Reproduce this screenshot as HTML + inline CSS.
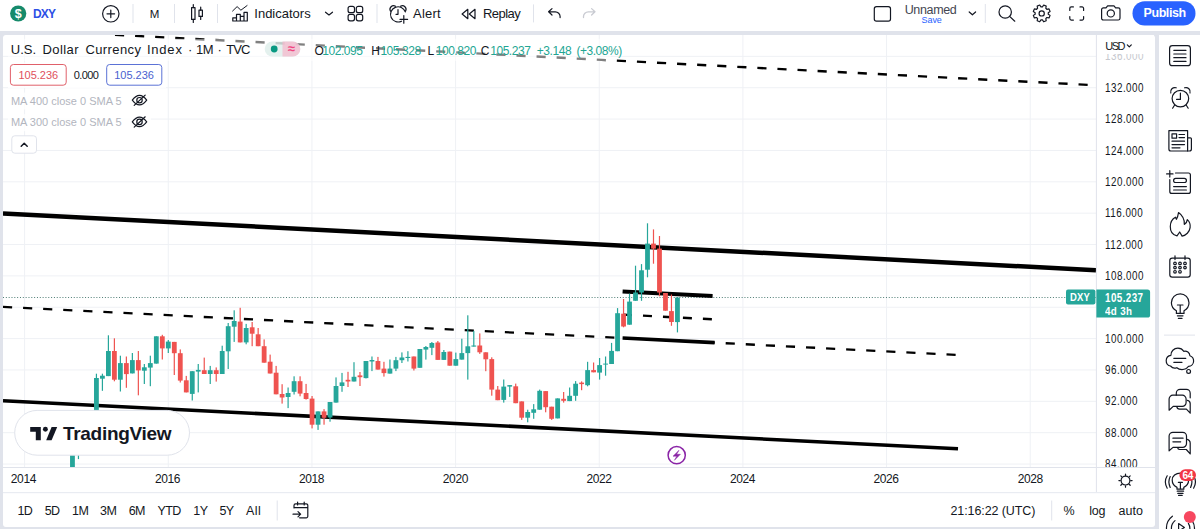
<!DOCTYPE html>
<html><head><meta charset="utf-8"><style>
*{margin:0;padding:0;box-sizing:border-box;}
html,body{width:1200px;height:529px;overflow:hidden;background:#e0e3eb;font-family:"Liberation Sans",sans-serif;color:#131722;}
.a{position:absolute;white-space:nowrap;}
</style></head><body>
<div class="a" style="left:0;top:0;width:1200px;height:31px;background:#fff"></div>
<div class="a" style="left:3px;top:35px;width:1152px;height:492px;background:#fff;border-radius:3px"></div>
<div class="a" style="left:1159px;top:35px;width:41px;height:494px;background:#fff"></div>
<svg class="a" style="left:0;top:0" width="1200" height="529" viewBox="0 0 1200 529">
<defs><clipPath id="pane"><rect x="3" y="35" width="1093" height="432"/></clipPath></defs>
<g clip-path="url(#pane)">
<rect x="3" y="463.54" width="1093" height="1" fill="#eff1f5"/>
<rect x="3" y="432.18" width="1093" height="1" fill="#eff1f5"/>
<rect x="3" y="400.82" width="1093" height="1" fill="#eff1f5"/>
<rect x="3" y="369.46" width="1093" height="1" fill="#eff1f5"/>
<rect x="3" y="338.1" width="1093" height="1" fill="#eff1f5"/>
<rect x="3" y="306.74" width="1093" height="1" fill="#eff1f5"/>
<rect x="3" y="275.38" width="1093" height="1" fill="#eff1f5"/>
<rect x="3" y="244.02" width="1093" height="1" fill="#eff1f5"/>
<rect x="3" y="212.66" width="1093" height="1" fill="#eff1f5"/>
<rect x="3" y="181.3" width="1093" height="1" fill="#eff1f5"/>
<rect x="3" y="149.94" width="1093" height="1" fill="#eff1f5"/>
<rect x="3" y="118.58" width="1093" height="1" fill="#eff1f5"/>
<rect x="3" y="87.22" width="1093" height="1" fill="#eff1f5"/>
<rect x="3" y="55.86" width="1093" height="1" fill="#eff1f5"/>
<rect x="24.1" y="35" width="1" height="432" fill="#eff1f5"/>
<rect x="167.76" y="35" width="1" height="432" fill="#eff1f5"/>
<rect x="311.42" y="35" width="1" height="432" fill="#eff1f5"/>
<rect x="455.08" y="35" width="1" height="432" fill="#eff1f5"/>
<rect x="598.74" y="35" width="1" height="432" fill="#eff1f5"/>
<rect x="742.4" y="35" width="1" height="432" fill="#eff1f5"/>
<rect x="886.06" y="35" width="1" height="432" fill="#eff1f5"/>
<rect x="1029.72" y="35" width="1" height="432" fill="#eff1f5"/>
<line x1="3" y1="297.5" x2="1096" y2="297.5" stroke="#4f7d75" stroke-width="1" stroke-dasharray="1 1.83"/>
<line x1="3" y1="213.4" x2="1096" y2="270.2" stroke="#000" stroke-width="4.5"/>
<line x1="115" y1="34.84" x2="1088" y2="84.86" stroke="#000" stroke-width="2.4" stroke-dasharray="9.15 10.95"/>
<line x1="3" y1="306.87" x2="956" y2="354.86" stroke="#000" stroke-width="2.3" stroke-dasharray="9.15 10.95"/>
<line x1="3" y1="400.7" x2="958" y2="448.8" stroke="#000" stroke-width="3.6"/>
<line x1="622.6" y1="291.4" x2="712.6" y2="296" stroke="#000" stroke-width="4"/>
<line x1="622.6" y1="338" x2="714.6" y2="342.6" stroke="#000" stroke-width="3.6"/>
<line x1="623" y1="314.6" x2="712" y2="319.3" stroke="#000" stroke-width="2.4" stroke-dasharray="9 11"/>
<rect x="71.86" y="446.4" width="1.2" height="25.1" fill="#26a69a"/>
<rect x="70.06" y="447.6" width="4.8" height="23.9" fill="#26a69a"/>
<rect x="77.85" y="438.1" width="1.2" height="21" fill="#26a69a"/>
<rect x="76.05" y="440.3" width="4.8" height="7.3" fill="#26a69a"/>
<rect x="83.84" y="428" width="1.2" height="13" fill="#26a69a"/>
<rect x="82.04" y="428.7" width="4.8" height="11.6" fill="#26a69a"/>
<rect x="89.83" y="412.6" width="1.2" height="22" fill="#26a69a"/>
<rect x="88.03" y="413.8" width="4.8" height="14.9" fill="#26a69a"/>
<rect x="95.82" y="373.7" width="1.2" height="41.3" fill="#26a69a"/>
<rect x="94.02" y="378" width="4.8" height="37" fill="#26a69a"/>
<rect x="101.81" y="373.7" width="1.2" height="17.1" fill="#26a69a"/>
<rect x="100.01" y="375.7" width="4.8" height="3" fill="#26a69a"/>
<rect x="107.8" y="335.3" width="1.2" height="40.8" fill="#26a69a"/>
<rect x="106" y="351" width="4.8" height="25.1" fill="#26a69a"/>
<rect x="113.79" y="338.3" width="1.2" height="43" fill="#ef5350"/>
<rect x="111.99" y="351" width="4.8" height="28.7" fill="#ef5350"/>
<rect x="119.78" y="355.7" width="1.2" height="35.8" fill="#26a69a"/>
<rect x="117.98" y="363.1" width="4.8" height="16.6" fill="#26a69a"/>
<rect x="125.77" y="356.5" width="1.2" height="31.3" fill="#ef5350"/>
<rect x="123.97" y="363.1" width="4.8" height="11" fill="#ef5350"/>
<rect x="131.76" y="353" width="1.2" height="20.4" fill="#26a69a"/>
<rect x="129.96" y="360.1" width="4.8" height="13.3" fill="#26a69a"/>
<rect x="137.75" y="351" width="1.2" height="44.3" fill="#ef5350"/>
<rect x="135.95" y="360.1" width="4.8" height="10.3" fill="#ef5350"/>
<rect x="143.74" y="364" width="1.2" height="20" fill="#26a69a"/>
<rect x="141.94" y="367.3" width="4.8" height="3.4" fill="#26a69a"/>
<rect x="149.73" y="355.7" width="1.2" height="30.5" fill="#26a69a"/>
<rect x="147.93" y="363.1" width="4.8" height="4.5" fill="#26a69a"/>
<rect x="155.72" y="336.3" width="1.2" height="27.3" fill="#26a69a"/>
<rect x="153.92" y="336.3" width="4.8" height="27.3" fill="#26a69a"/>
<rect x="161.71" y="334.8" width="1.2" height="24.7" fill="#ef5350"/>
<rect x="159.91" y="336.3" width="4.8" height="12.1" fill="#ef5350"/>
<rect x="167.7" y="340" width="1.2" height="13" fill="#26a69a"/>
<rect x="165.9" y="341.6" width="4.8" height="6.8" fill="#26a69a"/>
<rect x="173.69" y="341.9" width="1.2" height="33.1" fill="#ef5350"/>
<rect x="171.89" y="341.9" width="4.8" height="11.3" fill="#ef5350"/>
<rect x="179.68" y="349.4" width="1.2" height="33.1" fill="#ef5350"/>
<rect x="177.88" y="353.2" width="4.8" height="27.4" fill="#ef5350"/>
<rect x="185.67" y="375.9" width="1.2" height="16.5" fill="#ef5350"/>
<rect x="183.87" y="380.3" width="4.8" height="12.1" fill="#ef5350"/>
<rect x="191.66" y="371.2" width="1.2" height="29.3" fill="#26a69a"/>
<rect x="189.86" y="371.2" width="4.8" height="22.7" fill="#26a69a"/>
<rect x="197.65" y="364" width="1.2" height="28.4" fill="#26a69a"/>
<rect x="195.85" y="369.9" width="4.8" height="1.7" fill="#26a69a"/>
<rect x="203.64" y="357.6" width="1.2" height="16.4" fill="#ef5350"/>
<rect x="201.84" y="370.2" width="4.8" height="3.8" fill="#ef5350"/>
<rect x="209.63" y="365.9" width="1.2" height="18.1" fill="#26a69a"/>
<rect x="207.83" y="370.2" width="4.8" height="3.8" fill="#26a69a"/>
<rect x="215.62" y="367.4" width="1.2" height="14.2" fill="#ef5350"/>
<rect x="213.82" y="370.2" width="4.8" height="3.8" fill="#ef5350"/>
<rect x="221.61" y="345.7" width="1.2" height="28.3" fill="#26a69a"/>
<rect x="219.81" y="351" width="4.8" height="23" fill="#26a69a"/>
<rect x="227.6" y="323" width="1.2" height="46" fill="#26a69a"/>
<rect x="225.8" y="326.2" width="4.8" height="25.1" fill="#26a69a"/>
<rect x="233.59" y="310.3" width="1.2" height="31.6" fill="#26a69a"/>
<rect x="231.79" y="321" width="4.8" height="5.7" fill="#26a69a"/>
<rect x="239.58" y="307.8" width="1.2" height="34.6" fill="#ef5350"/>
<rect x="237.78" y="321.6" width="4.8" height="20.8" fill="#ef5350"/>
<rect x="245.57" y="323.9" width="1.2" height="20.4" fill="#26a69a"/>
<rect x="243.77" y="328" width="4.8" height="14.4" fill="#26a69a"/>
<rect x="251.56" y="322" width="1.2" height="24.2" fill="#ef5350"/>
<rect x="249.76" y="327.3" width="4.8" height="6.4" fill="#ef5350"/>
<rect x="257.55" y="328" width="1.2" height="18.2" fill="#ef5350"/>
<rect x="255.75" y="334.3" width="4.8" height="11.9" fill="#ef5350"/>
<rect x="263.54" y="339.4" width="1.2" height="23.3" fill="#ef5350"/>
<rect x="261.74" y="346.2" width="4.8" height="16.5" fill="#ef5350"/>
<rect x="269.53" y="354.6" width="1.2" height="18.9" fill="#ef5350"/>
<rect x="267.73" y="361.7" width="4.8" height="11.8" fill="#ef5350"/>
<rect x="275.52" y="365.9" width="1.2" height="28.4" fill="#ef5350"/>
<rect x="273.72" y="372.7" width="4.8" height="21.6" fill="#ef5350"/>
<rect x="281.51" y="384.2" width="1.2" height="19.4" fill="#ef5350"/>
<rect x="279.71" y="394" width="4.8" height="3.5" fill="#ef5350"/>
<rect x="287.5" y="387.5" width="1.2" height="20.6" fill="#26a69a"/>
<rect x="285.7" y="393" width="4.8" height="4" fill="#26a69a"/>
<rect x="293.49" y="376.3" width="1.2" height="18.2" fill="#26a69a"/>
<rect x="291.69" y="381.2" width="4.8" height="10.6" fill="#26a69a"/>
<rect x="299.48" y="376.3" width="1.2" height="20" fill="#ef5350"/>
<rect x="297.68" y="381.2" width="4.8" height="12.4" fill="#ef5350"/>
<rect x="305.47" y="383.9" width="1.2" height="15.7" fill="#ef5350"/>
<rect x="303.67" y="393" width="4.8" height="6" fill="#ef5350"/>
<rect x="311.46" y="396" width="1.2" height="32.4" fill="#ef5350"/>
<rect x="309.66" y="398.6" width="4.8" height="26.1" fill="#ef5350"/>
<rect x="317.45" y="411.4" width="1.2" height="18.5" fill="#26a69a"/>
<rect x="315.65" y="411.4" width="4.8" height="13.3" fill="#26a69a"/>
<rect x="323.44" y="409.1" width="1.2" height="15.6" fill="#ef5350"/>
<rect x="321.64" y="411.4" width="4.8" height="6.4" fill="#ef5350"/>
<rect x="329.43" y="402" width="1.2" height="19.7" fill="#26a69a"/>
<rect x="327.63" y="402" width="4.8" height="15.5" fill="#26a69a"/>
<rect x="335.42" y="377.4" width="1.2" height="25.2" fill="#26a69a"/>
<rect x="333.62" y="386" width="4.8" height="16.6" fill="#26a69a"/>
<rect x="341.41" y="372.9" width="1.2" height="18.9" fill="#26a69a"/>
<rect x="339.61" y="382.4" width="4.8" height="3.6" fill="#26a69a"/>
<rect x="347.4" y="371.8" width="1.2" height="15.2" fill="#ef5350"/>
<rect x="345.6" y="379.8" width="4.8" height="1.7" fill="#ef5350"/>
<rect x="353.39" y="362.2" width="1.2" height="19.3" fill="#26a69a"/>
<rect x="351.59" y="376.8" width="4.8" height="4.7" fill="#26a69a"/>
<rect x="359.38" y="372" width="1.2" height="14" fill="#ef5350"/>
<rect x="357.58" y="375.4" width="4.8" height="1.8" fill="#ef5350"/>
<rect x="365.37" y="361" width="1.2" height="17.4" fill="#26a69a"/>
<rect x="363.57" y="361" width="4.8" height="17.1" fill="#26a69a"/>
<rect x="371.36" y="356.5" width="1.2" height="14.6" fill="#26a69a"/>
<rect x="369.56" y="360" width="4.8" height="1.5" fill="#26a69a"/>
<rect x="377.35" y="356.9" width="1.2" height="12.7" fill="#ef5350"/>
<rect x="375.55" y="361" width="4.8" height="8.6" fill="#ef5350"/>
<rect x="383.34" y="361.8" width="1.2" height="14.8" fill="#ef5350"/>
<rect x="381.54" y="368.6" width="4.8" height="4.5" fill="#ef5350"/>
<rect x="389.33" y="359.5" width="1.2" height="14.1" fill="#26a69a"/>
<rect x="387.53" y="368.6" width="4.8" height="5" fill="#26a69a"/>
<rect x="395.32" y="356.9" width="1.2" height="14.2" fill="#26a69a"/>
<rect x="393.52" y="360.2" width="4.8" height="8.4" fill="#26a69a"/>
<rect x="401.31" y="352.4" width="1.2" height="10.6" fill="#26a69a"/>
<rect x="399.51" y="357.5" width="4.8" height="2.7" fill="#26a69a"/>
<rect x="407.3" y="351.2" width="1.2" height="10.3" fill="#26a69a"/>
<rect x="405.5" y="356.9" width="4.8" height="1.1" fill="#26a69a"/>
<rect x="413.29" y="356.5" width="1.2" height="14" fill="#ef5350"/>
<rect x="411.49" y="356.5" width="4.8" height="12.1" fill="#ef5350"/>
<rect x="419.28" y="349" width="1.2" height="18.8" fill="#26a69a"/>
<rect x="417.48" y="349" width="4.8" height="18.8" fill="#26a69a"/>
<rect x="425.27" y="346" width="1.2" height="13.6" fill="#26a69a"/>
<rect x="423.47" y="347" width="4.8" height="2.6" fill="#26a69a"/>
<rect x="431.26" y="342" width="1.2" height="13.1" fill="#26a69a"/>
<rect x="429.46" y="343" width="4.8" height="4.8" fill="#26a69a"/>
<rect x="437.25" y="341" width="1.2" height="18.9" fill="#ef5350"/>
<rect x="435.45" y="342.5" width="4.8" height="17.4" fill="#ef5350"/>
<rect x="443.24" y="350" width="1.2" height="9.9" fill="#26a69a"/>
<rect x="441.44" y="352" width="4.8" height="7.9" fill="#26a69a"/>
<rect x="449.23" y="351.6" width="1.2" height="14.1" fill="#ef5350"/>
<rect x="447.43" y="351.6" width="4.8" height="14.1" fill="#ef5350"/>
<rect x="455.22" y="352.6" width="1.2" height="13.1" fill="#26a69a"/>
<rect x="453.42" y="359.1" width="4.8" height="6.6" fill="#26a69a"/>
<rect x="461.21" y="338.7" width="1.2" height="20.9" fill="#26a69a"/>
<rect x="459.41" y="353.1" width="4.8" height="6.5" fill="#26a69a"/>
<rect x="467.2" y="315.3" width="1.2" height="64.3" fill="#26a69a"/>
<rect x="465.4" y="346.3" width="4.8" height="6.8" fill="#26a69a"/>
<rect x="473.19" y="330.9" width="1.2" height="15.7" fill="#26a69a"/>
<rect x="471.39" y="345.5" width="4.8" height="1.1" fill="#26a69a"/>
<rect x="479.18" y="333.4" width="1.2" height="20.5" fill="#ef5350"/>
<rect x="477.38" y="345.5" width="4.8" height="6.8" fill="#ef5350"/>
<rect x="485.17" y="352.3" width="1.2" height="18.9" fill="#ef5350"/>
<rect x="483.37" y="352.3" width="4.8" height="7" fill="#ef5350"/>
<rect x="491.16" y="357.3" width="1.2" height="38.4" fill="#ef5350"/>
<rect x="489.36" y="359.1" width="4.8" height="30.5" fill="#ef5350"/>
<rect x="497.15" y="386" width="1.2" height="14.2" fill="#ef5350"/>
<rect x="495.35" y="389.6" width="4.8" height="10.6" fill="#ef5350"/>
<rect x="503.14" y="379.5" width="1.2" height="23.1" fill="#26a69a"/>
<rect x="501.34" y="386.6" width="4.8" height="13.3" fill="#26a69a"/>
<rect x="509.13" y="385.1" width="1.2" height="11.8" fill="#26a69a"/>
<rect x="507.33" y="385.1" width="4.8" height="1.5" fill="#26a69a"/>
<rect x="515.12" y="383.6" width="1.2" height="19.6" fill="#ef5350"/>
<rect x="513.32" y="386.3" width="4.8" height="16.9" fill="#ef5350"/>
<rect x="521.11" y="401.4" width="1.2" height="18.5" fill="#ef5350"/>
<rect x="519.31" y="401.4" width="4.8" height="16.3" fill="#ef5350"/>
<rect x="527.1" y="409.7" width="1.2" height="12.6" fill="#26a69a"/>
<rect x="525.3" y="412" width="4.8" height="5.7" fill="#26a69a"/>
<rect x="533.09" y="404.1" width="1.2" height="14.7" fill="#26a69a"/>
<rect x="531.29" y="409.3" width="4.8" height="3.5" fill="#26a69a"/>
<rect x="539.08" y="389.6" width="1.2" height="20.1" fill="#26a69a"/>
<rect x="537.28" y="390.8" width="4.8" height="18.9" fill="#26a69a"/>
<rect x="545.07" y="391.1" width="1.2" height="21.2" fill="#ef5350"/>
<rect x="543.27" y="391.1" width="4.8" height="16.1" fill="#ef5350"/>
<rect x="551.06" y="406.7" width="1.2" height="13.2" fill="#ef5350"/>
<rect x="549.26" y="406.7" width="4.8" height="12.1" fill="#ef5350"/>
<rect x="557.05" y="398.4" width="1.2" height="20" fill="#26a69a"/>
<rect x="555.25" y="398.4" width="4.8" height="20" fill="#26a69a"/>
<rect x="563.04" y="392" width="1.2" height="10.6" fill="#ef5350"/>
<rect x="561.24" y="398.8" width="4.8" height="2" fill="#ef5350"/>
<rect x="569.03" y="387.5" width="1.2" height="13.6" fill="#26a69a"/>
<rect x="567.23" y="395.8" width="4.8" height="5.3" fill="#26a69a"/>
<rect x="575.02" y="381.1" width="1.2" height="19.7" fill="#26a69a"/>
<rect x="573.22" y="383.7" width="4.8" height="12.1" fill="#26a69a"/>
<rect x="581.01" y="381.4" width="1.2" height="8.8" fill="#ef5350"/>
<rect x="579.21" y="382.6" width="4.8" height="1.5" fill="#ef5350"/>
<rect x="587" y="361.8" width="1.2" height="24.5" fill="#26a69a"/>
<rect x="585.2" y="370.1" width="4.8" height="15.1" fill="#26a69a"/>
<rect x="592.99" y="362.5" width="1.2" height="9.8" fill="#ef5350"/>
<rect x="591.19" y="370.1" width="4.8" height="2.2" fill="#ef5350"/>
<rect x="598.98" y="358" width="1.2" height="21.6" fill="#26a69a"/>
<rect x="597.18" y="365.1" width="4.8" height="7.5" fill="#26a69a"/>
<rect x="604.97" y="356.5" width="1.2" height="19.2" fill="#26a69a"/>
<rect x="603.17" y="363.6" width="4.8" height="1" fill="#26a69a"/>
<rect x="610.96" y="342.9" width="1.2" height="21.1" fill="#26a69a"/>
<rect x="609.16" y="350.9" width="4.8" height="13.1" fill="#26a69a"/>
<rect x="616.95" y="308.1" width="1.2" height="43.1" fill="#26a69a"/>
<rect x="615.15" y="313.2" width="4.8" height="38" fill="#26a69a"/>
<rect x="622.94" y="299" width="1.2" height="28.3" fill="#ef5350"/>
<rect x="621.14" y="313.7" width="4.8" height="12.8" fill="#ef5350"/>
<rect x="628.93" y="293.6" width="1.2" height="31.1" fill="#26a69a"/>
<rect x="627.13" y="301.6" width="4.8" height="23.1" fill="#26a69a"/>
<rect x="634.92" y="265.7" width="1.2" height="35.1" fill="#26a69a"/>
<rect x="633.12" y="292.5" width="4.8" height="8.3" fill="#26a69a"/>
<rect x="640.91" y="264.1" width="1.2" height="36.7" fill="#26a69a"/>
<rect x="639.11" y="270.3" width="4.8" height="22.2" fill="#26a69a"/>
<rect x="646.9" y="223.3" width="1.2" height="54" fill="#26a69a"/>
<rect x="645.1" y="243.6" width="4.8" height="26.1" fill="#26a69a"/>
<rect x="652.89" y="229.4" width="1.2" height="34.3" fill="#ef5350"/>
<rect x="651.09" y="243.6" width="4.8" height="5" fill="#ef5350"/>
<rect x="658.88" y="236" width="1.2" height="60.3" fill="#ef5350"/>
<rect x="657.08" y="248.6" width="4.8" height="43.9" fill="#ef5350"/>
<rect x="664.87" y="293" width="1.2" height="17.7" fill="#ef5350"/>
<rect x="663.07" y="293" width="4.8" height="17.7" fill="#ef5350"/>
<rect x="670.86" y="294.5" width="1.2" height="31.3" fill="#ef5350"/>
<rect x="669.06" y="311.1" width="4.8" height="10.9" fill="#ef5350"/>
<rect x="676.85" y="297" width="1.2" height="35.4" fill="#26a69a"/>
<rect x="675.05" y="297.6" width="4.8" height="24.5" fill="#26a69a"/>
</g>
<rect x="1095.9" y="35" width="1" height="457.4" fill="#e0e3eb"/>
<rect x="3" y="467" width="1152" height="1" fill="#e0e3eb"/>
<rect x="3" y="492" width="1152" height="1.2" fill="#e9ecf2"/>
<rect x="1066" y="289.5" width="29.4" height="15" rx="2" fill="#26a69a"/>
<path d="M1096.4 289.5H1147.5A2.6 2.6 0 0 1 1150.1 292.1V315A2.6 2.6 0 0 1 1147.5 317.6H1096.4Z" fill="#26a69a"/>
<circle cx="1125.5" cy="480.6" r="4.4" fill="none" stroke="#131722" stroke-width="1.2" stroke-linecap="round" stroke-linejoin="round"/>
<path d="M1130.70 480.60L1132.10 480.60M1129.18 484.28L1130.17 485.27M1125.50 485.80L1125.50 487.20M1121.82 484.28L1120.83 485.27M1120.30 480.60L1118.90 480.60M1121.82 476.92L1120.83 475.93M1125.50 475.40L1125.50 474.00M1129.18 476.92L1130.17 475.93" fill="none" stroke="#131722" stroke-width="1.2" stroke-linecap="round" stroke-linejoin="round" stroke-width="1.3"/>
<rect x="276.7" y="500.5" width="1" height="20" fill="#e0e3eb"/>
<rect x="1051.2" y="500.5" width="1" height="20" fill="#e0e3eb"/>
<path d="M294 508V505.4A1.6 1.6 0 0 1 295.6 503.8H306.2A1.6 1.6 0 0 1 307.8 505.4V516.2A1.6 1.6 0 0 1 306.2 517.8H299.6M294 507.6H307.8M297.6 502V505M304.2 502V505M293 514.2H300.4M298 511.6L300.6 514.2L298 516.8" fill="none" stroke="#131722" stroke-width="1.2" stroke-linecap="round" stroke-linejoin="round"/>
<circle cx="676.7" cy="455.2" r="8.6" fill="#fff" stroke="#8a24a6" stroke-width="1.5"/>
<path d="M679 450.3L673 456.2H676.8L674.4 460.3L680.4 454.3H676.6Z" fill="#8a24a6" stroke="#8a24a6" stroke-width="0.5" stroke-linejoin="round"/>
<rect x="14.7" y="410.4" width="174.8" height="44.8" rx="22.4" fill="#fff" stroke="#e0e3eb" stroke-width="1"/>
<path d="M30.2 426.9H40.8V440.2H35.8V431.8H30.2Z" fill="#131722"/>
<circle cx="45.4" cy="429.3" r="2.45" fill="#131722"/>
<path d="M51.6 426.9H57.2L51.6 440.2H46.2Z" fill="#131722"/>
<circle cx="18.2" cy="13.5" r="8.1" fill="#168a6b"/>
<text x="18.3" y="18" font-family="Liberation Sans" font-weight="700" font-size="12.5" fill="#fff" text-anchor="middle">$</text>
<circle cx="110.8" cy="13.8" r="8.2" fill="none" stroke="#131722" stroke-width="1.2" stroke-linecap="round" stroke-linejoin="round"/>
<path d="M107 13.8H114.6M110.8 10V17.6" fill="none" stroke="#131722" stroke-width="1.2" stroke-linecap="round" stroke-linejoin="round" stroke-width="1.5"/>
<rect x="132.5" y="4" width="1" height="19" fill="#e0e3eb"/>
<rect x="174.0" y="4" width="1" height="19" fill="#e0e3eb"/>
<rect x="217.0" y="4" width="1" height="19" fill="#e0e3eb"/>
<rect x="376.5" y="4" width="1" height="19" fill="#e0e3eb"/>
<rect x="533.0" y="4.4" width="1" height="18.0" fill="#e0e3eb"/>
<rect x="984.8" y="4" width="1" height="19" fill="#e0e3eb"/>
<rect x="191.6" y="7.6" width="3.4" height="11.8" fill="none" stroke="#131722" stroke-width="1.2" stroke-linecap="round" stroke-linejoin="round"/>
<path d="M193.3 4.5V7.6M193.3 19.4V22.5" fill="none" stroke="#131722" stroke-width="1.2" stroke-linecap="round" stroke-linejoin="round"/>
<rect x="199" y="10.2" width="3.4" height="6.2" fill="none" stroke="#131722" stroke-width="1.2" stroke-linecap="round" stroke-linejoin="round"/>
<path d="M200.7 7V10.2M200.7 16.4V19.5" fill="none" stroke="#131722" stroke-width="1.2" stroke-linecap="round" stroke-linejoin="round"/>
<path d="M232.3 11.3L237.1 6.6L240.9 10.2L247.4 5.3" fill="none" stroke="#131722" stroke-width="1"/>
<path d="M232.8 21V17.8H236.5V14.4H240.3V16.3H244V12.4H247.3V21ZM236.5 17.8V21M240.3 16.3V21M244 16.3V21" fill="none" stroke="#131722" stroke-width="1.2" stroke-linecap="round" stroke-linejoin="round" stroke-width="1.3"/>
<path d="M325.5 12.2L329 15L332.5 12.2" fill="none" stroke="#131722" stroke-width="1.2" stroke-linecap="round" stroke-linejoin="round"/>
<rect x="348.1" y="6.3" width="6.4" height="6.4" rx="2" fill="none" stroke="#131722" stroke-width="1.2" stroke-linecap="round" stroke-linejoin="round" stroke-width="1.3"/>
<rect x="356.3" y="6.3" width="6.4" height="6.4" rx="2" fill="none" stroke="#131722" stroke-width="1.2" stroke-linecap="round" stroke-linejoin="round" stroke-width="1.3"/>
<rect x="348.1" y="14.4" width="6.4" height="6.4" rx="2" fill="none" stroke="#131722" stroke-width="1.2" stroke-linecap="round" stroke-linejoin="round" stroke-width="1.3"/>
<rect x="356.3" y="14.4" width="6.4" height="6.4" rx="2" fill="none" stroke="#131722" stroke-width="1.2" stroke-linecap="round" stroke-linejoin="round" stroke-width="1.3"/>
<path d="M401.5 21.2A7.6 7.6 0 1 1 405.3 11.9" fill="none" stroke="#131722" stroke-width="1.2" stroke-linecap="round" stroke-linejoin="round"/>
<path d="M390.5 11.2A3.6 3.6 0 0 1 395.5 6.3M400.5 6.3A3.6 3.6 0 0 1 405.5 11.2" fill="none" stroke="#131722" stroke-width="1.2" stroke-linecap="round" stroke-linejoin="round"/>
<path d="M398 9.5V14.3H396" fill="none" stroke="#131722" stroke-width="1.2" stroke-linecap="round" stroke-linejoin="round" stroke-width="1.4"/>
<path d="M400 19.4H407.6M403.8 15.6V23.2" fill="none" stroke="#131722" stroke-width="1.2" stroke-linecap="round" stroke-linejoin="round"/>
<path d="M467.8 9.3L462.1 14L467.8 18.7ZM475 9.3L469.3 14L475 18.7Z" fill="none" stroke="#131722" stroke-width="1.2" stroke-linecap="round" stroke-linejoin="round" stroke-width="1.1"/>
<path d="M552 8.6L548.6 11.8L552 15M548.6 11.8H555.3A4.8 4.8 0 0 1 560.1 16.6V17.6" fill="none" stroke="#131722" stroke-width="1.2" stroke-linecap="round" stroke-linejoin="round" stroke-width="1.3"/>
<path d="M591.6 8.6L595 11.8L591.6 15M595 11.8H588.3A4.8 4.8 0 0 0 583.5 16.6V17.6" fill="none" stroke="#c9cbd2" stroke-width="1.3" stroke-linecap="round" stroke-linejoin="round"/>
<rect x="874.3" y="6.6" width="16.2" height="14.6" rx="2.2" fill="none" stroke="#131722" stroke-width="1.2" stroke-linecap="round" stroke-linejoin="round" stroke-width="1.3"/>
<path d="M969.2 12L972.4 14.8L975.6 12" fill="none" stroke="#131722" stroke-width="1.2" stroke-linecap="round" stroke-linejoin="round"/>
<circle cx="1005.2" cy="12" r="6.2" fill="none" stroke="#131722" stroke-width="1.2" stroke-linecap="round" stroke-linejoin="round" stroke-width="1.3"/>
<path d="M1009.6 16.4L1014.8 21.2" fill="none" stroke="#131722" stroke-width="1.2" stroke-linecap="round" stroke-linejoin="round" stroke-width="1.3"/>
<path d="M1048.26 14.14 L1050.07 15.38 L1049.02 17.91 L1046.86 17.51 L1045.81 18.56 L1046.21 20.72 L1043.68 21.77 L1042.44 19.96 L1040.96 19.96 L1039.72 21.77 L1037.19 20.72 L1037.59 18.56 L1036.54 17.51 L1034.38 17.91 L1033.33 15.38 L1035.14 14.14 L1035.14 12.66 L1033.33 11.42 L1034.38 8.89 L1036.54 9.29 L1037.59 8.24 L1037.19 6.08 L1039.72 5.03 L1040.96 6.84 L1042.44 6.84 L1043.68 5.03 L1046.21 6.08 L1045.81 8.24 L1046.86 9.29 L1049.02 8.89 L1050.07 11.42 L1048.26 12.66Z" fill="none" stroke="#131722" stroke-width="1.2" stroke-linecap="round" stroke-linejoin="round" stroke-width="1.2"/>
<circle cx="1041.7" cy="13.4" r="2.6" fill="none" stroke="#131722" stroke-width="1.2" stroke-linecap="round" stroke-linejoin="round" stroke-width="1.2"/>
<path d="M1069.8 10.5V8.4A1.5 1.5 0 0 1 1071.3 6.9H1073.4M1080 6.9H1082.1A1.5 1.5 0 0 1 1083.6 8.4V10.5M1083.6 16.5V18.6A1.5 1.5 0 0 1 1082.1 20.1H1080M1073.4 20.1H1071.3A1.5 1.5 0 0 1 1069.8 18.6V16.5" fill="none" stroke="#131722" stroke-width="1.2" stroke-linecap="round" stroke-linejoin="round" stroke-width="1.3"/>
<path d="M1101.6 9.6A1.8 1.8 0 0 1 1103.4 7.8H1106L1107.6 5.8H1114L1115.6 7.8H1118.2A1.8 1.8 0 0 1 1120 9.6V18.2A1.8 1.8 0 0 1 1118.2 20H1103.4A1.8 1.8 0 0 1 1101.6 18.2Z" fill="none" stroke="#131722" stroke-width="1.2" stroke-linecap="round" stroke-linejoin="round" stroke-width="1.2"/>
<circle cx="1110.8" cy="13.4" r="3.6" fill="none" stroke="#131722" stroke-width="1.2" stroke-linecap="round" stroke-linejoin="round" stroke-width="1.2"/>
<rect x="1132.5" y="1.3" width="63" height="24.2" rx="12.1" fill="#2962ff"/>
<rect x="8" y="38.8" width="603" height="22.2" fill="#fff" fill-opacity="0.5"/>
<rect x="264.7" y="41.4" width="35.6" height="15.2" rx="7.6" fill="#d9ebe7" fill-opacity="0.7"/>
<path d="M282.5 41.4H292.7A7.6 7.6 0 0 1 292.7 56.6H282.5Z" fill="#f6b8cc" fill-opacity="0.75"/>
<circle cx="274.2" cy="49" r="3.4" fill="#089981"/>
<text x="291.3" y="53.3" font-family="Liberation Sans" font-weight="700" font-size="13" fill="#f0457f" text-anchor="middle">≈</text>
<rect x="8" y="62.5" width="158" height="25.5" fill="#fff" fill-opacity="0.8"/>
<rect x="8" y="92.5" width="143" height="17" fill="#fff" fill-opacity="0.8"/>
<rect x="8" y="114.2" width="143" height="17" fill="#fff" fill-opacity="0.8"/>
<rect x="10.4" y="64.5" width="55.8" height="20.7" rx="3" fill="#fff" stroke="#e0606a" stroke-width="1"/>
<rect x="106.7" y="64.5" width="55.1" height="20.7" rx="3" fill="#fff" stroke="#5b72d6" stroke-width="1"/>
<path d="M132.3 100.2Q139.5 90.7 146.7 100.2Q139.5 109.7 132.3 100.2Z" fill="none" stroke="#131722" stroke-width="1.2" stroke-linecap="round" stroke-linejoin="round"/><circle cx="139.5" cy="100.2" r="2.7" fill="none" stroke="#131722" stroke-width="1.2" stroke-linecap="round" stroke-linejoin="round"/><path d="M134.2 105.4L145.2 95.10000000000001" fill="none" stroke="#131722" stroke-width="1.2" stroke-linecap="round" stroke-linejoin="round"/>
<path d="M132.3 121.9Q139.5 112.4 146.7 121.9Q139.5 131.4 132.3 121.9Z" fill="none" stroke="#131722" stroke-width="1.2" stroke-linecap="round" stroke-linejoin="round"/><circle cx="139.5" cy="121.9" r="2.7" fill="none" stroke="#131722" stroke-width="1.2" stroke-linecap="round" stroke-linejoin="round"/><path d="M134.2 127.10000000000001L145.2 116.80000000000001" fill="none" stroke="#131722" stroke-width="1.2" stroke-linecap="round" stroke-linejoin="round"/>
<rect x="11.8" y="135.8" width="24.7" height="17.4" rx="3" fill="#fff" stroke="#e0e3eb" stroke-width="1"/>
<path d="M21.2 146.2L24.2 143.2L27.2 146.2" fill="none" stroke="#131722" stroke-width="1.5" stroke-linecap="round" stroke-linejoin="round"/>
<rect x="1169.6" y="45.7" width="20.8" height="20" rx="2.8" fill="none" stroke="#131722" stroke-width="1.2" stroke-linecap="round" stroke-linejoin="round" stroke-width="1.3"/>
<path d="M1173.8 50.3H1186M1173.8 54H1186M1173.8 57.7H1186M1173.8 61.4H1186" fill="none" stroke="#131722" stroke-width="1.2" stroke-linecap="round" stroke-linejoin="round"/>
<circle cx="1180.4" cy="98.6" r="8.3" fill="none" stroke="#131722" stroke-width="1.2" stroke-linecap="round" stroke-linejoin="round"/>
<path d="M1180.4 93.2V99.4H1176.6" fill="none" stroke="#131722" stroke-width="1.2" stroke-linecap="round" stroke-linejoin="round"/>
<path d="M1170.8 93A4.2 4.2 0 0 1 1176.2 87.8M1184.6 87.8A4.2 4.2 0 0 1 1190 93" fill="none" stroke="#131722" stroke-width="1.2" stroke-linecap="round" stroke-linejoin="round"/>
<path d="M1174.5 105.2L1172.6 108.2M1186.3 105.2L1188.2 108.2" fill="none" stroke="#131722" stroke-width="1.2" stroke-linecap="round" stroke-linejoin="round"/>
<path d="M1168.9 130.6H1187.6V151H1170.9A2 2 0 0 1 1168.9 149Z" fill="none" stroke="#131722" stroke-width="1.2" stroke-linecap="round" stroke-linejoin="round"/>
<path d="M1187.6 137.8H1190.4A1 1 0 0 1 1191.4 138.8V149A2 2 0 0 1 1189.4 151H1187.6" fill="none" stroke="#131722" stroke-width="1.2" stroke-linecap="round" stroke-linejoin="round"/>
<rect x="1172" y="133.8" width="4.6" height="4.4" fill="none" stroke="#131722" stroke-width="1.2" stroke-linecap="round" stroke-linejoin="round"/>
<path d="M1179 134.5H1184.5M1179 137.6H1184.5M1172 141.2H1184.5M1172 144.6H1184.5M1172 147.8H1180" fill="none" stroke="#131722" stroke-width="1.2" stroke-linecap="round" stroke-linejoin="round"/>
<path d="M1166.6 173.9H1173M1169.8 170.7V177.1" fill="none" stroke="#131722" stroke-width="1.2" stroke-linecap="round" stroke-linejoin="round"/>
<path d="M1175.5 173H1188.4A2 2 0 0 1 1190.4 175V191.4A2 2 0 0 1 1188.4 193.4H1171.8A2 2 0 0 1 1169.8 191.4V179.5" fill="none" stroke="#131722" stroke-width="1.2" stroke-linecap="round" stroke-linejoin="round"/>
<rect x="1173.6" y="178.3" width="12.8" height="4.2" rx="2.1" fill="none" stroke="#131722" stroke-width="1.2" stroke-linecap="round" stroke-linejoin="round"/>
<path d="M1173.6 186.6H1186.4M1173.6 190H1186.4" fill="none" stroke="#131722" stroke-width="1.2" stroke-linecap="round" stroke-linejoin="round"/>
<path d="M1178.5 212.6C1182 215 1184.6 218.6 1184.3 224.4C1186 223.4 1187.1 221.6 1187.3 219.6C1189.5 221.6 1190.6 224.2 1190.1 227.6C1189.5 232 1186 235.5 1182.1 236.1L1179.7 232L1177 235.8C1173 235 1170.2 231.5 1170.3 226.5C1170.4 222 1172.5 218.7 1175.5 217.2L1176.4 219.3C1177.6 217.6 1178.1 215.2 1178.5 212.6Z" fill="none" stroke="#131722" stroke-width="1.2" stroke-linecap="round" stroke-linejoin="round" stroke-width="1.2"/>
<rect x="1169.8" y="258.2" width="20.4" height="19" rx="2.4" fill="none" stroke="#131722" stroke-width="1.2" stroke-linecap="round" stroke-linejoin="round"/>
<path d="M1175 255.8V259.6M1185 255.8V259.6" fill="none" stroke="#131722" stroke-width="1.2" stroke-linecap="round" stroke-linejoin="round"/>
<circle cx="1175" cy="263.4" r="1.3" fill="none" stroke="#131722" stroke-width="1.2" stroke-linecap="round" stroke-linejoin="round" stroke-width="1"/>
<circle cx="1180" cy="263.4" r="1.3" fill="none" stroke="#131722" stroke-width="1.2" stroke-linecap="round" stroke-linejoin="round" stroke-width="1"/>
<circle cx="1185" cy="263.4" r="1.3" fill="none" stroke="#131722" stroke-width="1.2" stroke-linecap="round" stroke-linejoin="round" stroke-width="1"/>
<circle cx="1175" cy="267.6" r="1.3" fill="none" stroke="#131722" stroke-width="1.2" stroke-linecap="round" stroke-linejoin="round" stroke-width="1"/>
<circle cx="1180" cy="267.6" r="1.3" fill="none" stroke="#131722" stroke-width="1.2" stroke-linecap="round" stroke-linejoin="round" stroke-width="1"/>
<circle cx="1185" cy="267.6" r="1.3" fill="none" stroke="#131722" stroke-width="1.2" stroke-linecap="round" stroke-linejoin="round" stroke-width="1"/>
<circle cx="1175" cy="271.8" r="1.3" fill="none" stroke="#131722" stroke-width="1.2" stroke-linecap="round" stroke-linejoin="round" stroke-width="1"/>
<circle cx="1180" cy="271.8" r="1.3" fill="none" stroke="#131722" stroke-width="1.2" stroke-linecap="round" stroke-linejoin="round" stroke-width="1"/>
<path d="M1176.4 313.4V310.8C1173.4 309.2 1171.4 306.2 1171.4 302.8C1171.4 297.8 1175.4 293.8 1180.2 293.8C1185 293.8 1189 297.8 1189 302.8C1189 306.2 1187 309.2 1184 310.8V313.4Z" fill="none" stroke="#131722" stroke-width="1.2" stroke-linecap="round" stroke-linejoin="round"/>
<path d="M1177.4 315.8H1183M1178.4 318.4H1182M1177.4 305H1183M1180.2 305V313" fill="none" stroke="#131722" stroke-width="1.2" stroke-linecap="round" stroke-linejoin="round"/>
<rect x="1164" y="334.6" width="31" height="1" fill="#e0e3eb"/>
<path d="M1170.5 366C1167.6 366 1166.1 363.2 1166.2 360.6C1166.3 357.8 1168.4 355.7 1170.9 355.4C1170.7 351.3 1174 348.2 1177.9 348.2C1180.6 348.2 1182.6 349.5 1183.7 351.3C1186.9 350.5 1189.7 352.7 1189.9 355.8C1192.3 356.6 1193.7 358.8 1193.6 361.2C1193.5 364.1 1191.2 366.2 1188.5 366.3C1187.1 368.5 1184.6 369.6 1182 369.6C1179.9 369.6 1178.1 368.9 1176.8 367.7C1174.9 368.6 1172.3 368.1 1170.5 366Z" fill="none" stroke="#131722" stroke-width="1.2" stroke-linecap="round" stroke-linejoin="round" stroke-width="1.15"/>
<path d="M1173.8 358.3H1185.8M1173.8 362.3H1182" fill="none" stroke="#131722" stroke-width="1.2" stroke-linecap="round" stroke-linejoin="round" stroke-width="1.3"/>
<circle cx="1188.6" cy="371.4" r="1.9" fill="none" stroke="#131722" stroke-width="1.2" stroke-linecap="round" stroke-linejoin="round" stroke-width="1.2"/>
<path d="M1176.3 395.2V393.2A3.8 3.8 0 0 1 1180.1 389.4H1186.4A3.8 3.8 0 0 1 1190.2 393.2V397.8M1187.4 400.4A3.4 3.4 0 0 1 1190.2 403.6V413.2L1186.4 409.2H1179.6A3 3 0 0 1 1176.8 406.6" fill="none" stroke="#131722" stroke-width="1.2" stroke-linecap="round" stroke-linejoin="round" stroke-width="1.15"/>
<path d="M1169.1 410.2V399A3.8 3.8 0 0 1 1172.9 395.2H1182.3A3.8 3.8 0 0 1 1186.1 399V402.6A3.8 3.8 0 0 1 1182.3 406.4H1173.2Z" fill="none" stroke="#131722" stroke-width="1.2" stroke-linecap="round" stroke-linejoin="round" stroke-width="1.15"/>
<path d="M1169.1 450.8V436.1A3.8 3.8 0 0 1 1172.9 432.3H1182.7A3.8 3.8 0 0 1 1186.5 436.1V443.6A3.8 3.8 0 0 1 1182.7 447.4H1173Z" fill="none" stroke="#131722" stroke-width="1.2" stroke-linecap="round" stroke-linejoin="round" stroke-width="1.15"/>
<path d="M1186.6 439.4A3.6 3.6 0 0 1 1190.2 443V453.9L1186.3 449.5H1179.6A2.4 2.4 0 0 1 1177.6 447.6" fill="none" stroke="#131722" stroke-width="1.2" stroke-linecap="round" stroke-linejoin="round" stroke-width="1.15"/>
<path d="M1172.9 438.2H1183.1M1172.9 441.8H1180.7" fill="none" stroke="#131722" stroke-width="1.2" stroke-linecap="round" stroke-linejoin="round" stroke-width="1.3"/>
<path d="M1177 489.2V487.4C1174.2 486 1172.2 483.2 1172.2 480C1172.2 476 1175.8 473.1 1180.4 473.1C1185 473.1 1188.6 476 1188.6 480C1188.6 483.2 1186.6 486 1183.8 487.4V489.2Z" fill="none" stroke="#131722" stroke-width="1.2" stroke-linecap="round" stroke-linejoin="round" stroke-width="1.15"/>
<path d="M1177.2 491.2H1183.6M1177.8 493.4H1183M1178.6 495.4H1182.2M1178.4 482.4H1182.4M1180.4 482.4V488.6" fill="none" stroke="#131722" stroke-width="1.2" stroke-linecap="round" stroke-linejoin="round" stroke-width="1.15"/>
<path d="M1170.2 476.6C1168.6 479.8 1168.6 484 1170.2 487.4M1167.2 475.8C1165 479.4 1165 484.4 1167.2 488.2M1190.6 476.6C1192.2 479.8 1192.2 484 1190.6 487.4M1193.6 475.8C1195.8 479.4 1195.8 484.4 1193.6 488.2" fill="none" stroke="#131722" stroke-width="1.2" stroke-linecap="round" stroke-linejoin="round" stroke-width="1.1"/>
<rect x="1179.4" y="469.2" width="16.6" height="11.8" rx="5.9" fill="#f23645"/>
<text x="1187.7" y="478.6" font-family="Liberation Sans" font-weight="700" font-size="10" fill="#fff" text-anchor="middle" letter-spacing="-0.3">64</text>
<path d="M1172.4 516.2A15 15 0 0 0 1166.6 530M1175 520.6A10 10 0 0 0 1171.6 530M1188.4 523.4A10 10 0 0 1 1189.8 530M1192.4 521A14 14 0 0 1 1194.4 530" fill="none" stroke="#131722" stroke-width="1.2" stroke-linecap="round" stroke-linejoin="round" stroke-width="1.15"/>
<path d="M1178.6 523.6L1184.4 527.4L1178.6 531.2Z" fill="none" stroke="#131722" stroke-width="1.2" stroke-linecap="round" stroke-linejoin="round" stroke-width="1.15"/>
<circle cx="1189.8" cy="516.9" r="6" fill="#f7475f"/>
</svg>
<div class="a" style="left:1097px;top:35px;width:57px;height:432px;overflow:hidden"><div class="a" style="left:-1097px;top:-35px;width:1200px;height:529px">
<div class="a" style="left:1105.20px;top:81.86px;font-size:12px;line-height:12px;color:#131722;transform:scaleX(0.82);transform-origin:0 0;letter-spacing:0.6px;">132.000</div>
<div class="a" style="left:1105.20px;top:113.22px;font-size:12px;line-height:12px;color:#131722;transform:scaleX(0.82);transform-origin:0 0;letter-spacing:0.6px;">128.000</div>
<div class="a" style="left:1105.20px;top:144.58px;font-size:12px;line-height:12px;color:#131722;transform:scaleX(0.82);transform-origin:0 0;letter-spacing:0.6px;">124.000</div>
<div class="a" style="left:1105.20px;top:175.94px;font-size:12px;line-height:12px;color:#131722;transform:scaleX(0.82);transform-origin:0 0;letter-spacing:0.6px;">120.000</div>
<div class="a" style="left:1105.20px;top:207.30px;font-size:12px;line-height:12px;color:#131722;transform:scaleX(0.82);transform-origin:0 0;letter-spacing:0.6px;">116.000</div>
<div class="a" style="left:1105.20px;top:238.66px;font-size:12px;line-height:12px;color:#131722;transform:scaleX(0.82);transform-origin:0 0;letter-spacing:0.6px;">112.000</div>
<div class="a" style="left:1105.20px;top:270.02px;font-size:12px;line-height:12px;color:#131722;transform:scaleX(0.82);transform-origin:0 0;letter-spacing:0.6px;">108.000</div>
<div class="a" style="left:1105.20px;top:332.74px;font-size:12px;line-height:12px;color:#131722;transform:scaleX(0.82);transform-origin:0 0;letter-spacing:0.6px;">100.000</div>
<div class="a" style="left:1105.20px;top:364.10px;font-size:12px;line-height:12px;color:#131722;transform:scaleX(0.82);transform-origin:0 0;letter-spacing:0.6px;">96.000</div>
<div class="a" style="left:1105.20px;top:395.46px;font-size:12px;line-height:12px;color:#131722;transform:scaleX(0.82);transform-origin:0 0;letter-spacing:0.6px;">92.000</div>
<div class="a" style="left:1105.20px;top:426.82px;font-size:12px;line-height:12px;color:#131722;transform:scaleX(0.82);transform-origin:0 0;letter-spacing:0.6px;">88.000</div>
<div class="a" style="left:1105.20px;top:458.18px;font-size:12px;line-height:12px;color:#131722;transform:scaleX(0.82);transform-origin:0 0;letter-spacing:0.6px;">84.000</div>
</div></div>
<div class="a" style="left:1105.20px;top:49.94px;font-size:12px;line-height:12px;color:#c6c8ce;transform:scaleX(0.82);transform-origin:0 0;letter-spacing:0.6px;">136.000</div>
<div class="a" style="left:1069.80px;top:292.07px;font-size:11.5px;line-height:11.5px;color:#fff;transform:scaleX(0.82);transform-origin:0 0;font-weight:700;letter-spacing:0.3px;">DXY</div>
<div class="a" style="left:1104.80px;top:292.04px;font-size:12px;line-height:12px;color:#fff;transform:scaleX(0.82);transform-origin:0 0;font-weight:700;letter-spacing:0.5px;">105.237</div>
<div class="a" style="left:1104.60px;top:305.57px;font-size:11.5px;line-height:11.5px;color:#fff;transform:scaleX(0.85);transform-origin:0 0;font-weight:700;letter-spacing:0.4px;">4d 3h</div>
<div class="a" style="left:-76.60px;width:200px;text-align:center;top:473.44px;font-size:12px;line-height:12px;color:#131722;letter-spacing:-0.4px;">2014</div>
<div class="a" style="left:67.60px;width:200px;text-align:center;top:473.44px;font-size:12px;line-height:12px;color:#131722;letter-spacing:-0.4px;">2016</div>
<div class="a" style="left:211.60px;width:200px;text-align:center;top:473.44px;font-size:12px;line-height:12px;color:#131722;letter-spacing:-0.4px;">2018</div>
<div class="a" style="left:355.40px;width:200px;text-align:center;top:473.44px;font-size:12px;line-height:12px;color:#131722;letter-spacing:-0.4px;">2020</div>
<div class="a" style="left:499.00px;width:200px;text-align:center;top:473.44px;font-size:12px;line-height:12px;color:#131722;letter-spacing:-0.4px;">2022</div>
<div class="a" style="left:642.50px;width:200px;text-align:center;top:473.44px;font-size:12px;line-height:12px;color:#131722;letter-spacing:-0.4px;">2024</div>
<div class="a" style="left:786.10px;width:200px;text-align:center;top:473.44px;font-size:12px;line-height:12px;color:#131722;letter-spacing:-0.4px;">2026</div>
<div class="a" style="left:930.20px;width:200px;text-align:center;top:473.44px;font-size:12px;line-height:12px;color:#131722;letter-spacing:-0.4px;">2028</div>
<div class="a" style="left:17.40px;top:505.22px;font-size:12.5px;line-height:12.5px;color:#131722;letter-spacing:-0.6px;">1D</div>
<div class="a" style="left:44.70px;top:505.22px;font-size:12.5px;line-height:12.5px;color:#131722;letter-spacing:-0.6px;">5D</div>
<div class="a" style="left:72.10px;top:505.22px;font-size:12.5px;line-height:12.5px;color:#131722;letter-spacing:-0.6px;">1M</div>
<div class="a" style="left:100.10px;top:505.22px;font-size:12.5px;line-height:12.5px;color:#131722;letter-spacing:-0.6px;">3M</div>
<div class="a" style="left:128.70px;top:505.22px;font-size:12.5px;line-height:12.5px;color:#131722;letter-spacing:-0.6px;">6M</div>
<div class="a" style="left:157.50px;top:505.22px;font-size:12.5px;line-height:12.5px;color:#131722;letter-spacing:-0.6px;">YTD</div>
<div class="a" style="left:193.30px;top:505.22px;font-size:12.5px;line-height:12.5px;color:#131722;letter-spacing:-0.6px;">1Y</div>
<div class="a" style="left:219.40px;top:505.22px;font-size:12.5px;line-height:12.5px;color:#131722;letter-spacing:-0.6px;">5Y</div>
<div class="a" style="left:246.10px;top:505.22px;font-size:12.5px;line-height:12.5px;color:#131722;letter-spacing:0.4px;">All</div>
<div class="a" style="left:950.50px;top:504.62px;font-size:12.5px;line-height:12.5px;color:#131722;letter-spacing:-0.1px;">21:16:22 (UTC)</div>
<div class="a" style="left:1063.60px;top:504.62px;font-size:12.5px;line-height:12.5px;color:#131722;">%</div>
<div class="a" style="left:1089.30px;top:504.62px;font-size:12.5px;line-height:12.5px;color:#131722;letter-spacing:-0.3px;">log</div>
<div class="a" style="left:1118.60px;top:504.62px;font-size:12.5px;line-height:12.5px;color:#131722;">auto</div>
<div class="a" style="left:63.00px;top:424.22px;font-size:19px;line-height:19px;color:#131722;font-weight:700;letter-spacing:-0.3px;">TradingView</div>
<div class="a" style="left:1097px;top:35px;width:57px;height:18.8px;background:#fff"></div>
<div class="a" style="left:1105.20px;top:40.59px;font-size:11px;line-height:11px;color:#131722;letter-spacing:-1.45px;">USD</div>
<svg class="a" style="left:0;top:0" width="1200" height="60"><path d="M1127.3 44.8L1129.3 46.8L1131.3 44.8" fill="none" stroke="#131722" stroke-width="1.2" stroke-linecap="round" stroke-linejoin="round" stroke-width="1.3"/></svg>
<div class="a" style="left:33.00px;top:7.84px;font-size:12px;line-height:12px;color:#2d50e6;font-weight:700;letter-spacing:-0.8px;">DXY</div>
<div class="a" style="left:149.80px;top:8.97px;font-size:11.5px;line-height:11.5px;color:#131722;letter-spacing:-0.6px;">M</div>
<div class="a" style="left:254.30px;top:7.00px;font-size:13px;line-height:13px;color:#131722;">Indicators</div>
<div class="a" style="left:413.00px;top:7.00px;font-size:13px;line-height:13px;color:#131722;letter-spacing:0.25px;">Alert</div>
<div class="a" style="left:483.00px;top:6.80px;font-size:13px;line-height:13px;color:#131722;letter-spacing:-0.55px;">Replay</div>
<div class="a" style="left:904.70px;top:3.52px;font-size:12.5px;line-height:12.5px;color:#434651;letter-spacing:-0.35px;">Unnamed</div>
<div class="a" style="left:921.60px;top:16.38px;font-size:9px;line-height:9px;color:#2962ff;letter-spacing:-0.1px;">Save</div>
<div class="a" style="left:1143.60px;top:7.12px;font-size:12.5px;line-height:12.5px;color:#fff;font-weight:700;letter-spacing:-0.45px;">Publish</div>
<div class="a" style="left:10.80px;top:43.30px;font-size:13px;line-height:13px;color:#131722;">U.S.</div>
<div class="a" style="left:42.40px;top:43.30px;font-size:13px;line-height:13px;color:#131722;letter-spacing:0.45px;">Dollar</div>
<div class="a" style="left:85.40px;top:43.30px;font-size:13px;line-height:13px;color:#131722;letter-spacing:0.4px;">Currency</div>
<div class="a" style="left:146.90px;top:43.30px;font-size:13px;line-height:13px;color:#131722;letter-spacing:0.8px;">Index</div>
<div class="a" style="left:188.10px;top:43.30px;font-size:13px;line-height:13px;color:#131722;">·</div>
<div class="a" style="left:196.00px;top:43.30px;font-size:13px;line-height:13px;color:#131722;letter-spacing:-0.6px;">1M</div>
<div class="a" style="left:217.50px;top:43.30px;font-size:13px;line-height:13px;color:#131722;">·</div>
<div class="a" style="left:226.30px;top:43.30px;font-size:13px;line-height:13px;color:#131722;letter-spacing:-1.0px;">TVC</div>
<div class="a" style="left:314.60px;top:44.54px;font-size:12px;line-height:12px;color:#131722;">O</div>
<div class="a" style="left:322.30px;top:44.54px;font-size:12px;line-height:12px;color:#22a693;letter-spacing:-0.45px;">102.095</div>
<div class="a" style="left:371.30px;top:44.54px;font-size:12px;line-height:12px;color:#131722;">H</div>
<div class="a" style="left:380.40px;top:44.54px;font-size:12px;line-height:12px;color:#22a693;letter-spacing:-0.45px;">105.328</div>
<div class="a" style="left:427.40px;top:44.54px;font-size:12px;line-height:12px;color:#131722;">L</div>
<div class="a" style="left:435.70px;top:44.54px;font-size:12px;line-height:12px;color:#22a693;letter-spacing:-0.45px;">100.820</div>
<div class="a" style="left:480.80px;top:44.54px;font-size:12px;line-height:12px;color:#131722;">C</div>
<div class="a" style="left:490.20px;top:44.54px;font-size:12px;line-height:12px;color:#22a693;letter-spacing:-0.45px;">105.237</div>
<div class="a" style="left:536.80px;top:44.54px;font-size:12px;line-height:12px;color:#22a693;letter-spacing:-0.45px;">+3.148</div>
<div class="a" style="left:576.40px;top:44.54px;font-size:12px;line-height:12px;color:#22a693;letter-spacing:-0.45px;">(+3.08%)</div>
<div class="a" style="left:18.40px;top:69.89px;font-size:11px;line-height:11px;color:#e0505c;">105.236</div>
<div class="a" style="left:73.70px;top:69.89px;font-size:11px;line-height:11px;color:#131722;letter-spacing:-0.6px;">0.000</div>
<div class="a" style="left:114.20px;top:69.89px;font-size:11px;line-height:11px;color:#4a5fcf;">105.236</div>
<div class="a" style="left:10.90px;top:95.69px;font-size:11px;line-height:11px;color:#b2b5be;">MA 400 close 0 SMA 5</div>
<div class="a" style="left:10.90px;top:117.39px;font-size:11px;line-height:11px;color:#b2b5be;">MA 300 close 0 SMA 5</div>
</body></html>
